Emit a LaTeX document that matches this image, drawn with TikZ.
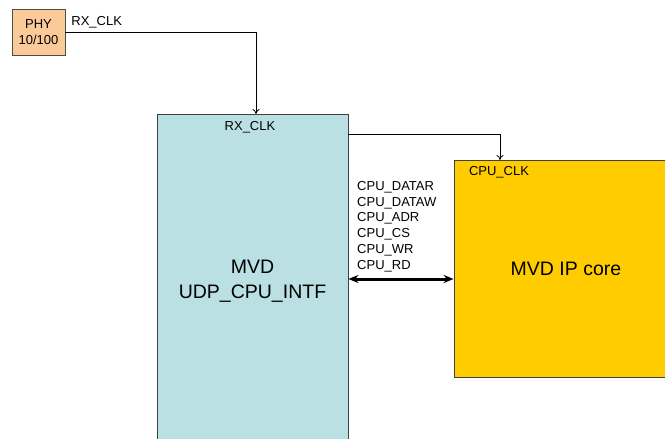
\documentclass[tikz,border=0pt]{standalone}
\usepackage{fontspec}
\setmainfont{Liberation Sans}
\usetikzlibrary{arrows.meta, positioning}

\definecolor{phyfill}{RGB}{252,202,152}
\definecolor{intffill}{RGB}{186,224,227}
\definecolor{corefill}{RGB}{255,204,0}

\begin{document}
\begin{tikzpicture}[
      x=1pt, y=-1pt,
      every node/.style={font=\fontsize{13}{15.8}\selectfont, inner sep=0pt},
      phy/.style={rectangle, draw=black!70, fill=phyfill, line width=0.8pt, minimum width=53pt, minimum height=46pt, align=center},
      block/.style={rectangle, draw=black!75, line width=0.8pt, align=center, font=\fontsize{19.5}{25}\selectfont},
      sig/.style={-{To[length=5pt, width=7pt]}, line width=0.8pt},
      bus/.style={{Stealth[length=10pt, width=8pt]}-{Stealth[length=10pt, width=8pt]}, line width=3pt}
    ]
    \useasboundingbox (0,0) rectangle (665,439);

    % Nodes
    \node[phy] (phy) at (38.5,32) {PHY\\10/100};

    \node[block, fill=intffill, minimum width=191pt, minimum height=334pt] (intf) at (252.5,281) {MVD\\UDP\_CPU\_INTF};

    \node[block, fill=corefill, minimum width=224pt, minimum height=217pt] (core) at (566,268.5) {MVD IP core};

    % Pins
    \coordinate (rxin) at (256,114);
    \coordinate (clkout) at (348,134);
    \coordinate (clkin) at (500,160);
    \coordinate (busy) at (0,279);

    \node (rxpin) at (250,127) {RX\_CLK};
    \node (clkpin) at (499,172) {CPU\_CLK};
    \node[anchor=north west, align=left] (buspins) at (357,181)
      {CPU\_DATAR\\CPU\_DATAW\\CPU\_ADR\\CPU\_CS\\CPU\_WR\\CPU\_RD};

    % Arrows
    \draw[sig] (phy.east) -- node[pos=0.04, above right=4pt and -2pt, anchor=south west] (rxlabel) {RX\_CLK} (phy.east -| rxin) -- (rxin);

    \draw[sig] (clkout) -| (clkin);

    \draw[bus] (intf.east |- busy) -- (core.west |- busy);

    \end{tikzpicture}
\end{document}
